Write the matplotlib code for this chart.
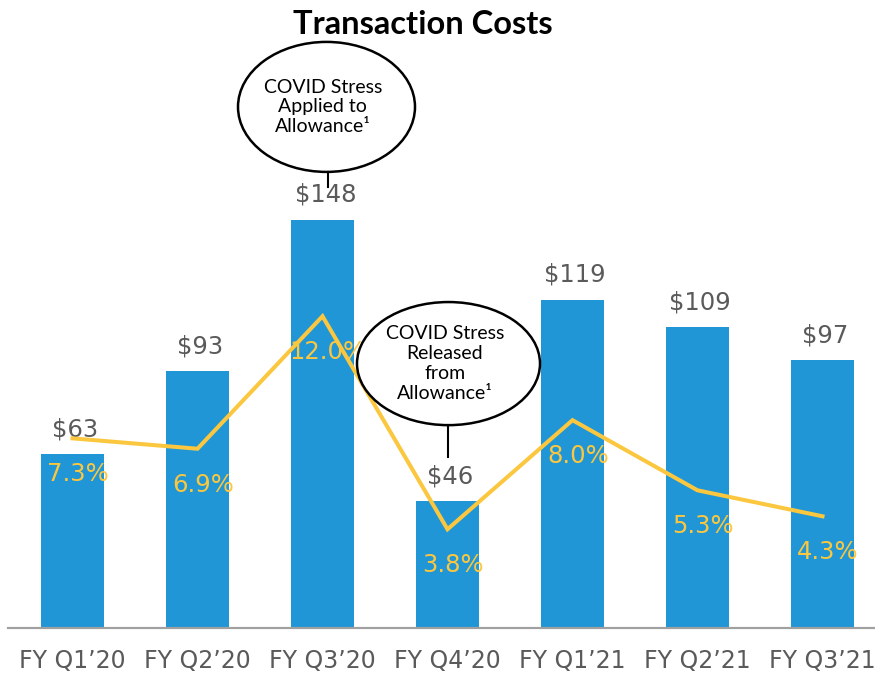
import numpy as np
import matplotlib.pyplot as plt
from matplotlib.patches import Ellipse

# data
quarters = ["FY Q1\u201920", "FY Q2\u201920", "FY Q3\u201920", "FY Q4\u201920",
            "FY Q1\u201921", "FY Q2\u201921", "FY Q3\u201921"]
costs = [63, 93, 148, 46, 119, 109, 97]          # $ millions
cost_pct = [7.3, 6.9, 12.0, 3.8, 8.0, 5.3, 4.3]  # % of something

blue = "#2196d6"
yellow = "#fbc73f"
grey_txt = "#5a5a5a"

fig = plt.figure(figsize=(8.75, 6.74), dpi=100)
ax = fig.add_axes([8 / 875, 46 / 674, 867 / 875, 590 / 674])
ax2 = ax.twinx()

x = np.arange(len(quarters))
ax.bar(x, costs, width=0.5, color=blue, zorder=2)
ax.set_xlim(-0.516, 6.42)
ax.set_ylim(0, 590 / 2.76)
ax2.set_ylim(0, 590 / 25.98)

for xi, v in zip(x, costs):
    ax.annotate(f"${v}", (xi, v), xytext=(2, 18), textcoords="offset points",
                ha="center", va="center", fontsize=17.5, color=grey_txt)

ax2.plot(x, cost_pct, color=yellow, lw=2.9, zorder=3, solid_joinstyle="miter")
for xi, p in zip(x, cost_pct):
    ax2.annotate(f"{p:.1f}%", (xi, p), xytext=(4, -26), textcoords="offset points",
                 ha="center", va="center", fontsize=17.5, color=yellow, zorder=4)

ax.set_xticks(x)
ax.set_xticklabels(quarters, fontsize=17, color=grey_txt)
ax.tick_params(axis="x", length=0, pad=15)
ax.set_yticks([])
ax2.set_yticks([])
for a in (ax, ax2):
    for s in ("top", "right", "left"):
        a.spines[s].set_visible(False)
    a.spines["bottom"].set_color("#a0a0a0")
    a.spines["bottom"].set_linewidth(1.5)

# callouts
callouts = [
    ((2.032, 188.8), 1.416, 47.1, "COVID Stress\nApplied to\nAllowance\u00b9", 2.044, (165.2, 159.8)),
    ((3.008, 95.8), 1.464, 44.6, "COVID Stress\nReleased\nfrom\nAllowance\u00b9", 3.004, (73.6, 62.0)),
]
for (cx, cy), w, h, txt, lx, (y0, y1) in callouts:
    ax2.add_patch(Ellipse((cx, cy), w, h, transform=ax.transData, facecolor="white",
                          edgecolor="black", lw=1.8, zorder=5, clip_on=False))
    ax2.plot([lx, lx], [y0, y1], color="black", lw=1.5, transform=ax.transData,
             zorder=5, clip_on=False)
    ax2.text(cx - 0.03, cy, txt, transform=ax.transData, ha="center", va="center",
             fontsize=14, family="Lato", linespacing=1.2, zorder=6)

fig.text(423 / 875, 1 - 24 / 674, "Transaction Costs", ha="center", va="center",
         fontsize=23.5, fontweight="bold", family="Lato")

fig.savefig("out.png", dpi=100)
